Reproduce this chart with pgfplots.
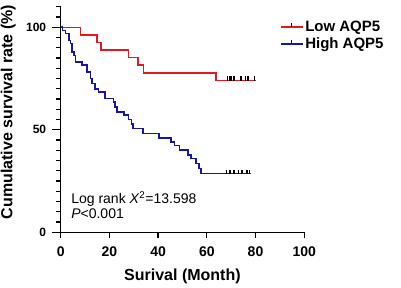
\documentclass[border=0pt]{standalone}
\usepackage{pgfplots}
\pgfplotsset{compat=1.18}
\usepackage{fontspec}
\setmainfont{Liberation Sans}
\definecolor{kmred}{RGB}{228,24,32}
\definecolor{kmblue}{RGB}{22,22,168}
\pgfdeclareplotmark{cup}{\pgfpathmoveto{\pgfpoint{0pt}{-0.5pt}}\pgfpathlineto{\pgfpoint{0pt}{4pt}}\pgfusepathqstroke}
\begin{document}
\begin{tikzpicture}
\useasboundingbox (0,0) rectangle (401pt,288pt);
\begin{axis}[
  at={(60.7pt,55.7pt)}, anchor=south west,
  scale only axis, width=243.5pt, height=225.5pt,
  xmin=0, xmax=100, ymin=0, ymax=110,
  axis lines=left,
  axis line style={-, line width=1.5pt, black},
  xtick={0,20,...,100}, ytick={0,50,100},
  tick align=outside,
  major tick length=8pt,
  tick style={draw=none},
  /pgf/number format/assume math mode=true,
  xticklabel style={font=\fontsize{14}{14}\selectfont\bfseries, yshift=-3pt},
  yticklabel style={font=\fontsize{12}{12}\selectfont\bfseries, xshift=-3pt},
  xlabel={Surival (Month)},
  ylabel={Cumulative survival rate (\%)},
  every axis x label/.style={at={(rel axis cs:0.5,0)}, anchor=base, yshift=-48.7pt, font=\fontsize{16}{16}\selectfont\bfseries},
  every axis y label/.style={at={(rel axis cs:0,0.533)}, rotate=90, anchor=base, yshift=48.2pt, font=\fontsize{16}{16}\selectfont\bfseries},
  clip=false,
  legend style={at={(rel axis cs:0.90,1.0)}, anchor=north west, yshift=-12pt, draw=none, fill=none,
    font=\fontsize{15}{15}\selectfont\bfseries, row sep=1pt, inner sep=0pt,
    /tikz/every even column/.append style={column sep=6pt}},
  legend cell align=left,
  legend image code/.code={
    \draw[#1, line width=1.5pt] (0pt,0pt) -- (21.7pt,0pt);
    \draw[black, line width=1.1pt] (10.85pt,0pt) -- (10.85pt,4pt);
  },
]
\addplot[kmred, line width=1.5pt, const plot, mark=none] coordinates {
(0,100) (8.1,96.3) (14.9,92.6) (16.5,88.9) (27.8,85.2) (31.8,81.5) (34.1,77.8) (63.7,74.1) (80,74.1)};
\addlegendentry{Low AQP5}
\addplot[kmblue, line width=1.6pt, const plot, mark=none] coordinates {
(0,100) (0.7,98.4) (2,97) (3.4,93.5) (4,92) (4.7,88) (5.4,86.2) (6.1,83.1) (8.8,81.5) (10.8,78.2) (12.2,75) (12.9,72.5) (14.2,70) (15.6,68.4) (18.3,65.2) (21.7,63.5) (22.4,61) (23.2,58.7) (26,57.2) (27.8,55) (29.1,52.7) (29.8,50.6) (33.9,48.2) (40.4,46) (45.4,44) (46.7,42.4) (48.8,40) (52.2,37.6) (53.5,36) (55.6,33.5) (56.9,31.1) (57.6,28.6) (78.3,28.6)};
\addlegendentry{High AQP5}
\addplot[only marks, mark=cup, black, line width=1.4pt, forget plot] coordinates {
(68.4,74.1) (69.2,74.1) (70,74.1) (71.1,74.1) (74,74.1) (75.9,74.1) (76.6,74.1) (77.2,74.1) (79.5,74.1)};
\addplot[only marks, mark=cup, black, line width=1.4pt, forget plot] coordinates {
(68,28.6) (69.5,28.6) (71.1,28.6) (72.9,28.6) (74.4,28.6) (76.5,28.6) (77.5,28.6)};
\node[anchor=base west, font=\fontsize{14}{14}\selectfont, align=left] at (axis cs:2.9,14) {Log rank \textit{X}\textsuperscript{2}=13.598};
\node[anchor=base west, font=\fontsize{14}{14}\selectfont] at (axis cs:2.9,6.7) {\textit{P}<0.001};
\end{axis}
\foreach \i in {0,...,5} \draw[black, line width=1.3pt] ({60.7pt+\i*48.7pt},55.7pt) -- ++(0pt,-6pt);
\foreach \j in {0,1,2} \draw[black, line width=1.3pt] (60.7pt,{55.7pt+\j*102.5pt}) -- ++(-9pt,0pt);
\foreach \j in {1,...,22} \draw[black, line width=1.2pt] (60.7pt,{55.7pt+\j*10.25pt}) -- ++(-5pt,0pt);
\end{tikzpicture}
\end{document}
